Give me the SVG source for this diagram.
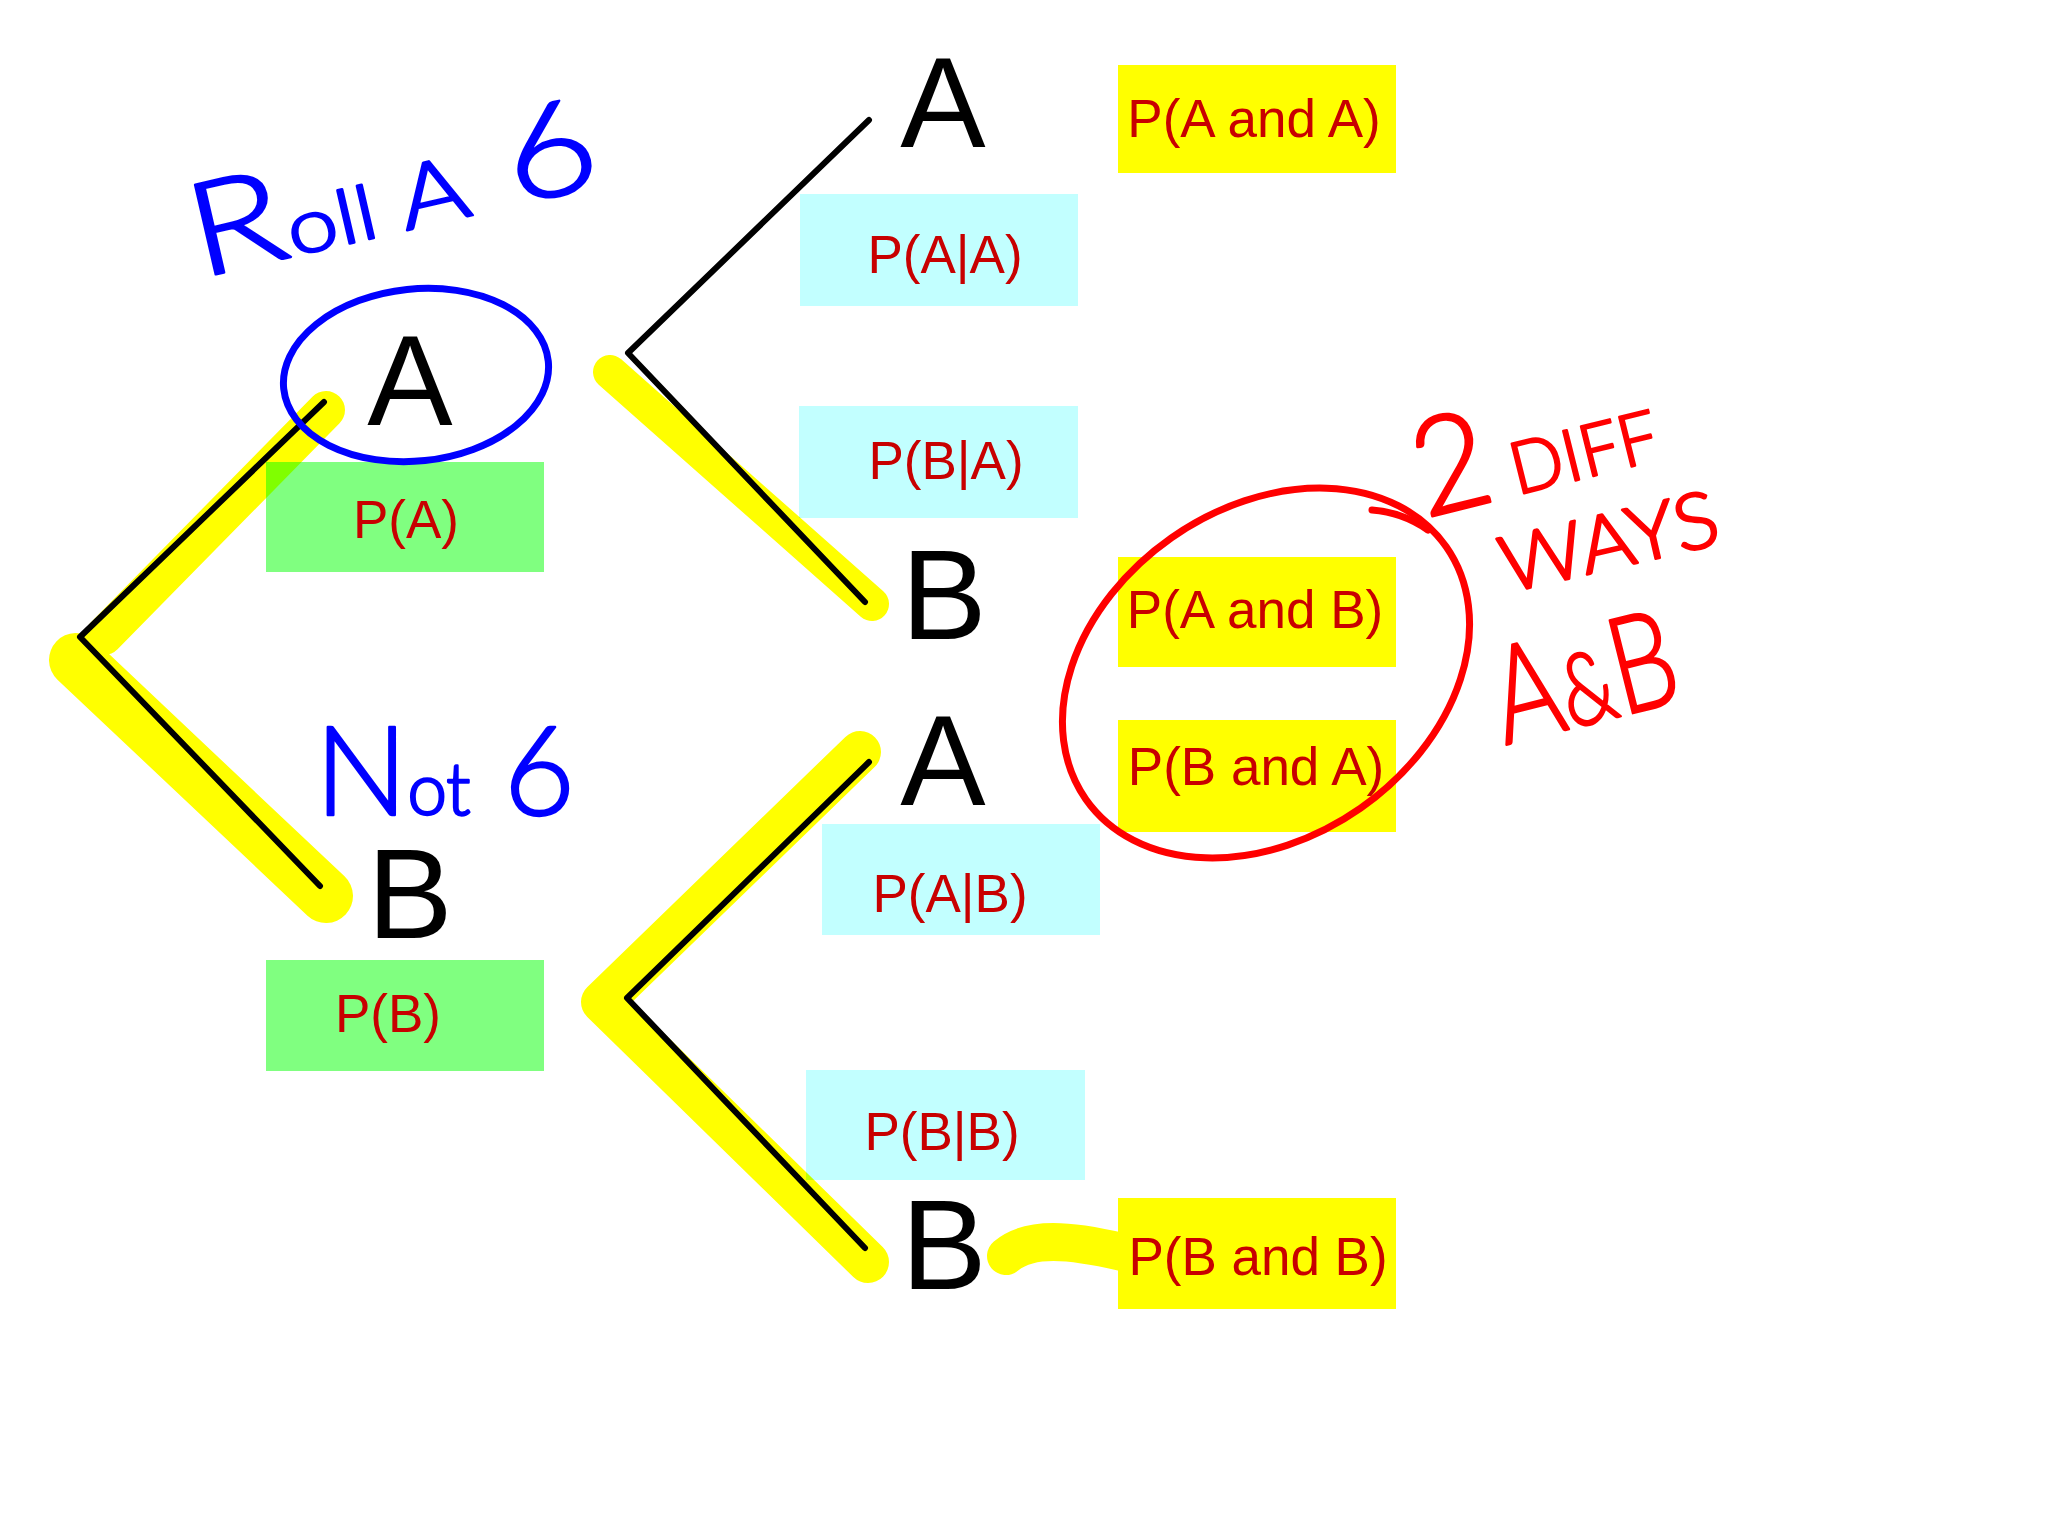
<svg xmlns="http://www.w3.org/2000/svg" width="2048" height="1536" viewBox="0 0 2048 1536">
  <style>
    .yb { fill: #ffff00; }
    .cb { fill: #c2ffff; }
    .gb { fill: #80ff80; }
    .lbl { font-family: "Liberation Sans", Arial, sans-serif; font-size: 53px; fill: #c80000; text-anchor: middle; }
    .big { font-family: "Liberation Sans", Arial, sans-serif; font-size: 128px; fill: #000000; text-anchor: middle; }
    .edge { stroke: #000000; stroke-width: 6; fill: none; stroke-linecap: round; stroke-linejoin: round; }
    .hl { stroke: #ffff00; fill: none; stroke-linecap: round; stroke-linejoin: round; }
    .blue { font-family: Lato, "Open Sans", "DejaVu Sans", sans-serif; font-weight: 300; fill: #0000ff; stroke: #0000ff; stroke-width: 2.5; stroke-linejoin: round; }
    .red { font-family: Lato, "Open Sans", "DejaVu Sans", sans-serif; font-weight: 300; fill: #ff0000; stroke: #ff0000; stroke-width: 2.5; stroke-linejoin: round; }
  </style>
  <rect width="2048" height="1536" fill="#ffffff"/>

  <!-- probability boxes -->
  <g id="box-PA"><rect class="gb" x="266" y="462" width="278" height="110"/><text class="lbl" x="406" y="538">P(A)</text></g>
  <g id="box-PB"><rect class="gb" x="266" y="960" width="278" height="111"/><text class="lbl" x="388" y="1032">P(B)</text></g>
  <g id="box-PAgA"><rect class="cb" x="800" y="194" width="278" height="112"/><text class="lbl" x="945" y="273">P(A|A)</text></g>
  <g id="box-PBgA"><rect class="cb" x="799" y="406" width="279" height="112"/><text class="lbl" x="946" y="479">P(B|A)</text></g>
  <g id="box-PAgB"><rect class="cb" x="822" y="824" width="278" height="111"/><text class="lbl" x="950" y="912">P(A|B)</text></g>
  <g id="box-PBgB"><rect class="cb" x="806" y="1070" width="279" height="110"/><text class="lbl" x="942" y="1150">P(B|B)</text></g>
  <g id="box-PAandA"><rect class="yb" x="1118" y="65" width="278" height="108"/><text class="lbl" x="1254" y="137">P(A and A)</text></g>
  <g id="box-PAandB"><rect class="yb" x="1118" y="557" width="278" height="110"/><text class="lbl" x="1255" y="628">P(A and B)</text></g>
  <g id="box-PBandA"><rect class="yb" x="1118" y="720" width="278" height="112"/><text class="lbl" x="1256" y="785">P(B and A)</text></g>
  <g id="box-PBandB"><rect class="yb" x="1118" y="1198" width="278" height="111"/><text class="lbl" x="1258" y="1275">P(B and B)</text></g>

  <!-- tree connectors -->
  <g id="connectors">
    <polyline class="edge" points="324,402 80,637 320,886"/>
    <polyline class="edge" points="869,120 628,353 865,602"/>
    <polyline class="edge" points="869,762 627,998 865,1248"/>
  </g>

  <!-- highlighter strokes -->
  <g id="highlights" style="mix-blend-mode:multiply">
    <line class="hl" x1="104" y1="636" x2="326" y2="410" stroke-width="38"/>
    <line class="hl" x1="76" y1="660" x2="326" y2="896" stroke-width="54"/>
    <line class="hl" x1="610" y1="372" x2="872" y2="604" stroke-width="34"/>
    <polyline class="hl" points="860,752 602,1002 868,1262" stroke-width="42"/>
    <path class="hl" d="M1006,1256 C1030,1236 1070,1240 1122,1252" stroke-width="38"/>
  </g>

  <!-- tree nodes -->
  <g id="node-A1"><text class="big" x="410" y="425">A</text></g>
  <g id="node-B1"><text class="big" x="410" y="938">B</text></g>
  <g id="node-AA"><text class="big" x="943" y="147">A</text></g>
  <g id="node-AB"><text class="big" x="944" y="639">B</text></g>
  <g id="node-BA"><text class="big" x="943" y="805">A</text></g>
  <g id="node-BB"><text class="big" x="944" y="1289">B</text></g>

  <!-- blue annotations -->
  <g id="note-roll">
    <ellipse cx="416" cy="375" rx="133" ry="86" fill="none" stroke="#0000ff" stroke-width="7" transform="rotate(-6 416 375)"/>
    <text class="blue" transform="translate(200,278) rotate(-13)" textLength="415" lengthAdjust="spacingAndGlyphs"><tspan font-size="130">R</tspan><tspan font-size="75">oll</tspan><tspan font-size="88"> A</tspan><tspan font-size="130"> 6</tspan></text>
  </g>
  <g id="note-not6">
    <text class="blue" x="315" y="815" textLength="260" lengthAdjust="spacingAndGlyphs"><tspan font-size="125">N</tspan><tspan font-size="72">ot</tspan><tspan font-size="125"> 6</tspan></text>
  </g>

  <!-- red annotations -->
  <g id="note-2ways">
    <ellipse cx="1266" cy="673" rx="220" ry="165" fill="none" stroke="#ff0000" stroke-width="7" transform="rotate(-35 1266 673)"/>
    <path d="M1372,510 Q1402,512 1428,530" fill="none" stroke="#ff0000" stroke-width="7" stroke-linecap="round"/>
    <text class="red" transform="translate(1425,518) rotate(-14)" textLength="245" lengthAdjust="spacingAndGlyphs"><tspan font-size="135">2</tspan><tspan font-size="72"> DIFF</tspan></text>
    <text class="red" font-size="78" transform="translate(1507,593) rotate(-13)" textLength="222" lengthAdjust="spacingAndGlyphs">WAYS</text>
    <text class="red" transform="translate(1505,745) rotate(-14)" textLength="186" lengthAdjust="spacingAndGlyphs"><tspan font-size="135">A</tspan><tspan font-size="100">&amp;</tspan><tspan font-size="135">B</tspan></text>
  </g>
</svg>
